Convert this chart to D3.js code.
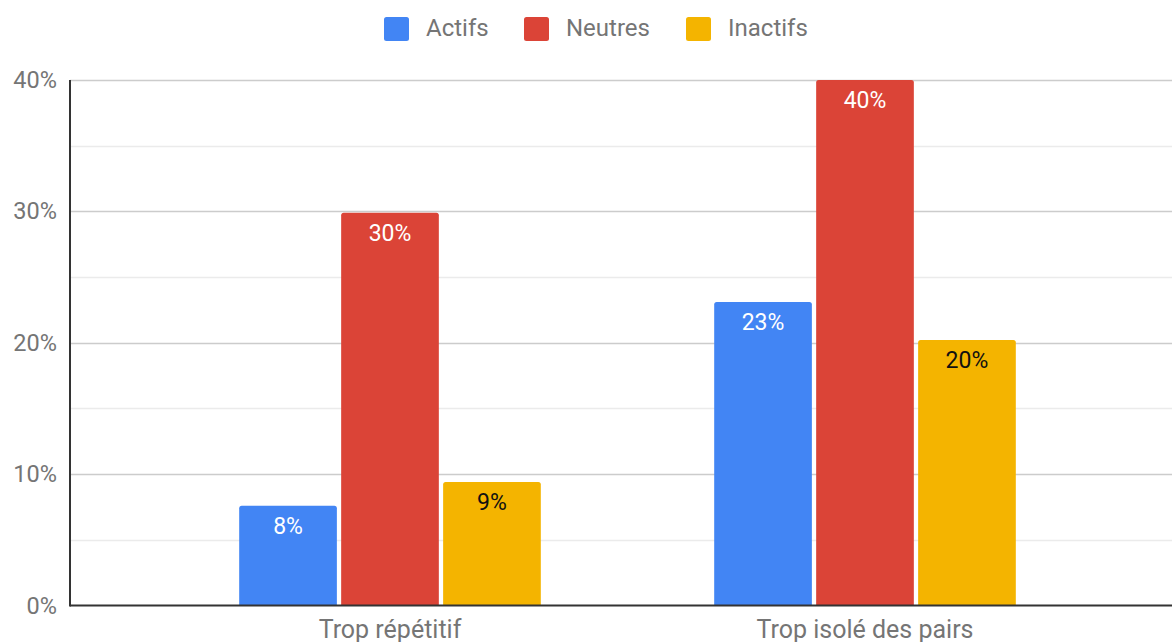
<!DOCTYPE html>
<html><head><meta charset="utf-8">
<script src="https://cdn.jsdelivr.net/npm/d3@7"></script>
<style>html,body{margin:0;padding:0;background:#fff;}svg{display:block;font-family:Roboto,"Noto Sans",sans-serif;}</style>
</head><body>
<svg id="chart" width="1172" height="642"></svg>
<script>
const categories = ["Trop répétitif", "Trop isolé des pairs"];
const seriesNames = ["Actifs", "Neutres", "Inactifs"];
const actifs = [7.6, 23.1];
const neutres = [29.9, 40.0];
const inactifs = [9.4, 20.2];
const valueLabels = [["8%", "30%", "9%"], ["23%", "40%", "20%"]];
const yTicks = [0, 10, 20, 30, 40];
const yTickLabels = ["0%", "10%", "20%", "30%", "40%"];
const colors = ["#4285f4", "#db4437", "#f4b400"];
const labelColors = ["#ffffff", "#ffffff", "#111111"];

const seriesValues = [actifs, neutres, inactifs];
const svg = d3.select("#chart");

const y = d3.scaleLinear().domain([0, 40]).range([605.5, 80]);
const x0 = d3.scaleBand().domain(categories).range([152.5, 1102.5]).paddingInner(0.365).paddingOuter(0.1825);
const x1 = d3.scaleBand().domain(seriesNames).range([0, x0.bandwidth()]).paddingInner(0.042).paddingOuter(0);

// minor gridlines
const minor = d3.range(5, 40, 10);
svg.append("g").selectAll("line").data(minor).join("line")
  .attr("x1", 70).attr("x2", 1172)
  .attr("y1", d => Math.round(y(d)) + 0.5).attr("y2", d => Math.round(y(d)) + 0.5)
  .attr("stroke", "#ebebeb").attr("stroke-width", 1.3);
// major gridlines
svg.append("g").selectAll("line").data(yTicks.filter(d => d > 0)).join("line")
  .attr("x1", 70).attr("x2", 1172)
  .attr("y1", d => Math.round(y(d)) + 0.5).attr("y2", d => Math.round(y(d)) + 0.5)
  .attr("stroke", "#cccccc").attr("stroke-width", 1.3);

// y tick labels
svg.append("g").selectAll("text").data(yTicks).join("text")
  .attr("x", 57).attr("y", d => y(d) + 8)
  .attr("text-anchor", "end").attr("fill", "#757575")
  .attr("font-size", 23.5)
  .text((d, i) => yTickLabels[i]);

// bars
function barPath(x, yTop, w, yBot, r) {
  return `M${x},${yBot}V${yTop + r}Q${x},${yTop} ${x + r},${yTop}H${x + w - r}Q${x + w},${yTop} ${x + w},${yTop + r}V${yBot}Z`;
}
const data = [];
categories.forEach((c, ci) => {
  seriesNames.forEach((s, si) => {
    data.push({c, s, si, v: seriesValues[si][ci], label: valueLabels[ci][si]});
  });
});
const g = svg.append("g");
g.selectAll("path").data(data).join("path")
  .attr("d", d => barPath(x0(d.c) + x1(d.s), y(d.v), x1.bandwidth(), y(0), 2.5))
  .attr("fill", d => colors[d.si]);
g.selectAll("text").data(data).join("text")
  .attr("x", d => x0(d.c) + x1(d.s) + x1.bandwidth() / 2)
  .attr("y", d => y(d.v) + 28)
  .attr("text-anchor", "middle")
  .attr("font-size", 23).attr("font-weight", 400)
  .attr("fill", d => labelColors[d.si])
  .text(d => d.label);

// axes lines
svg.append("line").attr("x1", 70).attr("x2", 1172).attr("y1", 605.5).attr("y2", 605.5)
  .attr("stroke", "#333333").attr("stroke-width", 2);
svg.append("line").attr("x1", 70).attr("x2", 70).attr("y1", 80).attr("y2", 606.5)
  .attr("stroke", "#333333").attr("stroke-width", 2);

// x labels
svg.append("g").selectAll("text").data(categories).join("text")
  .attr("x", d => x0(d) + x0.bandwidth() / 2)
  .attr("y", 638)
  .attr("text-anchor", "middle").attr("fill", "#757575").attr("font-size", 25)
  .text(d => d);

// legend
const legendX = [384, 524, 686];
const leg = svg.append("g");
seriesNames.forEach((s, i) => {
  leg.append("rect").attr("x", legendX[i]).attr("y", 17).attr("width", 25).attr("height", 24)
    .attr("rx", 2.5).attr("fill", colors[i]);
  leg.append("text").attr("x", legendX[i] + 42).attr("y", 36)
    .attr("fill", "#757575").attr("font-size", 24).text(s);
});
</script>
</body></html>
